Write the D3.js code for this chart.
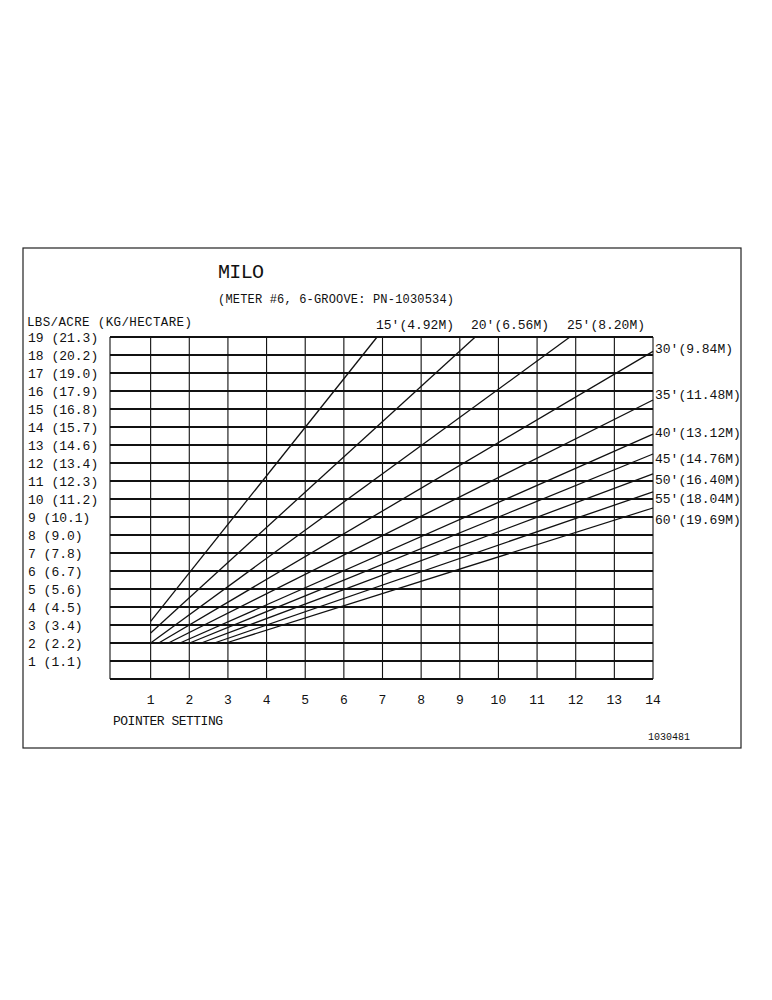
<!DOCTYPE html>
<html><head><meta charset="utf-8">
<script src="https://cdn.jsdelivr.net/npm/d3@7"></script>
<style>body{margin:0;background:#fff}text{font-family:"Liberation Mono","DejaVu Sans Mono",monospace;fill:#111}</style>
</head><body><svg id="c" width="772" height="1000"></svg>
<script>
const pointerTicks=[1,2,3,4,5,6,7,8,9,10,11,12,13,14];
const lbsTicks=[1,2,3,4,5,6,7,8,9,10,11,12,13,14,15,16,17,18,19];
const kgLabels=["1.1","2.2","3.4","4.5","5.6","6.7","7.8","9.0","10.1","11.2","12.3","13.4","14.6","15.7","16.8","17.9","19.0","20.2","21.3"];
const widthLabels=["15'(4.92M)","20'(6.56M)","25'(8.20M)","30'(9.84M)","35'(11.48M)","40'(13.12M)","45'(14.76M)","50'(16.40M)","55'(18.04M)","60'(19.69M)"];
const startPointer=[1,1,1,1.21,1.46,1.76,2.01,2.31,2.65,2.95];
const startRate=[3.2,2.55,2,2,2,2,2,2,2,2];
const endPointer=[6.86,9.4,11.85,14,14,14,14,14,14,14];
const endRate=[19,19,19,18.2,15.5,13.6,12.5,11.4,10.4,9.5];

const svg=d3.select("#c");
const x=d3.scaleLinear().domain([0,14]).range([112,653]);
const y=d3.scaleLinear().domain([0,19]).range([679,337]);

svg.append("rect").attr("x",23).attr("y",248).attr("width",718).attr("height",500).attr("fill","none").attr("stroke","#222").attr("stroke-width",1.2);

svg.append("text").attr("x",218).attr("y",278).attr("font-size",20).attr("transform","scale(1,1)").text("MILO").attr("textLength",46);
svg.append("text").attr("x",218).attr("y",303).attr("font-size",12).text("(METER #6, 6-GROOVE: PN-1030534)").attr("textLength",236);
svg.append("text").attr("x",27).attr("y",326).attr("font-size",12.5).text("LBS/ACRE (KG/HECTARE)").attr("textLength",165);

const g=svg.append("g");
// horizontal grid
g.selectAll("line.h").data([0,...lbsTicks]).join("line")
 .attr("x1",x(0)-2).attr("x2",x(14)).attr("y1",d=>y(d)).attr("y2",d=>y(d))
 .attr("stroke","#111").attr("stroke-width",1.8);
// vertical grid
g.selectAll("line.v").data([0,...pointerTicks]).join("line").attr("class","v")
 .attr("x1",d=>x(d)-(d===0?2:0)).attr("x2",d=>x(d)-(d===0?2:0)).attr("y1",y(19)).attr("y2",y(0))
 .attr("stroke","#111").attr("stroke-width",1.1);

// y labels
svg.selectAll("text.yl").data(lbsTicks).join("text").attr("class","yl")
 .attr("x",28).attr("y",d=>y(d)+5).attr("font-size",13)
 .text((d,i)=>(d<10?" ":"")+d+" ("+kgLabels[i]+")");
// x labels
svg.selectAll("text.xl").data(pointerTicks).join("text").attr("class","xl")
 .attr("x",d=>x(d)).attr("y",704).attr("text-anchor","middle").attr("font-size",13).text(d=>d);
svg.append("text").attr("x",113).attr("y",725).attr("font-size",13).text("POINTER SETTING").attr("textLength",110);
svg.append("text").attr("x",648).attr("y",740).attr("font-size",10).text("1030481");

// rate lines
const idx=d3.range(widthLabels.length);
svg.selectAll("line.r").data(idx).join("line").attr("class","r")
 .attr("x1",i=>x(startPointer[i])).attr("y1",i=>y(startRate[i]))
 .attr("x2",i=>x(endPointer[i])).attr("y2",i=>y(endRate[i]))
 .attr("stroke","#111").attr("stroke-width",1.3);
// width labels
const lblX=[376,471,567,655,655,655,655,655,655,655];
const lblY=[329,329,329,353,399,437,463,484,503,524];
svg.selectAll("text.wl").data(idx).join("text").attr("class","wl")
 .attr("x",i=>lblX[i]).attr("y",i=>lblY[i]).attr("font-size",13).text(i=>widthLabels[i]);
</script></body></html>
